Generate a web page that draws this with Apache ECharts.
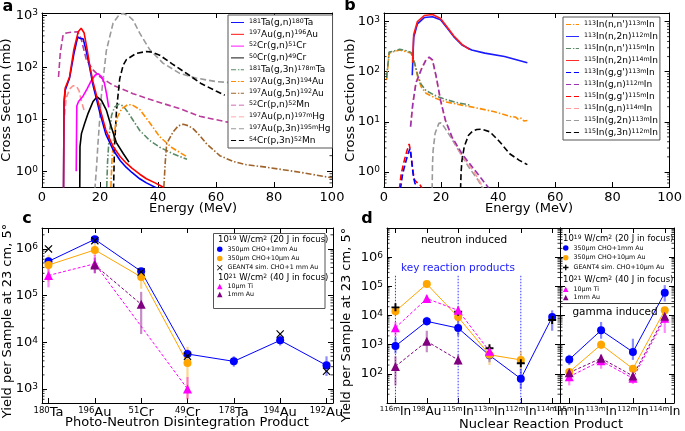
<!DOCTYPE html>
<html><head><meta charset="utf-8">
<script src="https://cdn.jsdelivr.net/npm/echarts@6/dist/echarts.min.js"></script>
<style>html,body{margin:0;padding:0;background:#fff}#c{width:685px;height:431px}</style>
</head><body><div id="c"></div>
<script>
// ---------- Panel a: cross sections [Energy (MeV), mb] ----------
const aTaGN   = [[7.4,0.3],[7.6,20],[8.0,36],[9.5,62],[11,180],[12.3,380],[13,360],[13.5,380],[14.2,350],[15.3,200],[16.5,95],[17.6,45],[19,22],[20,13],[22,5.2],[24.5,2.6],[27,1.6],[29,1.2],[31,0.95],[33.7,0.72],[36,0.6],[39.5,0.48]];
const aAuGN   = [[7.4,0.3],[7.6,22],[8.0,40],[9.5,65],[11,220],[12.5,480],[13.5,560],[14.5,460],[15.5,230],[16.5,105],[17.6,52],[19,26],[20,16],[22,6.2],[24.5,3.0],[27,1.9],[29,1.45],[31,1.15],[33.7,0.88],[36,0.72],[39,0.6],[41.7,0.5],[42,0.3]];
const aCr52GN = [[11.8,1.0],[12.0,18],[12.6,22],[14,27],[15.5,38],[17,55],[18.3,70],[19.3,75],[20.5,66],[21.5,50],[22.3,30],[23,17]];
const aCr50GN = [[13.0,0.3],[13.1,3],[13.6,5.3],[14.7,8.3],[15.9,13],[17.6,22],[19,27],[20.5,23],[22.2,15],[23.9,7.1],[25.6,3.6],[28,2.2],[30,1.5]];
const aTaG3N  = [[22.2,0.3],[22.6,1.5],[23.2,5],[24,12],[25,17],[26.5,19.5],[28,18],[29.5,14],[31.4,9.6],[33.7,6.1],[37.2,3.9],[40.6,2.9],[45,2.2],[50,1.7]];
const aAuG3N  = [[23.6,0.3],[24.2,2],[25,6],[26,11],[27.5,16],[29.5,19],[31,19],[33.7,15.5],[37.2,8.5],[40.6,4.6],[45,2.8],[50,1.9]];
const aAuG5N  = [[41.8,0.3],[42.5,1.5],[43,3.4],[45.2,5.7],[47,7.5],[48.7,8],[50.5,7.5],[52.1,6.6],[54.5,4.8],[56.7,3.4],[61.3,2.0],[65.9,1.55],[70,1.35],[77.4,1.2],[88.9,0.96],[100,0.75]];
const aCrPN   = [[5.7,65],[6.3,190],[7.3,420],[8.4,455],[10,470],[12.4,480],[13.5,350],[15.3,138],[17.6,89],[19.9,66],[24.5,45],[31.4,31],[39.4,22],[47.5,16],[54.4,11.4],[63.6,8.9],[70,8],[80,6.3],[90,4.6],[100,3.2]];
const aAuPN   = [[7.8,12],[8.3,25],[9.5,38],[10.7,44],[11.9,43],[12.8,35],[13.6,22],[14.5,15]];
const aAuP3N  = [[18.0,0.3],[18.8,1.2],[19.3,3.4],[20.5,30],[22.2,210],[24.5,700],[26.5,1000],[28,1080],[30,950],[31.4,800],[33.7,450],[37.2,215],[41.7,120],[47.5,76],[53,62],[60,53],[66,50],[70,47]];
const aCrP3N  = [[24.6,0.3],[25,3],[25.7,15],[26.8,60],[28,110],[29.1,140],[32.5,185],[36,200],[38,195],[40.6,170],[45,115],[50,75],[55,48],[60,35],[63,29]];

// ---------- Panel b ----------
const bIn113NN  = [[0.9,68],[1.8,234],[3.2,250],[5.5,270],[7.8,250],[9.5,234],[10.7,148],[11.8,79],[13,50],[14.7,37],[18.1,29.5],[21.5,25],[27.3,21.5],[33,18.6],[38.7,15.8],[42,14],[44.4,12.6],[46,12.5],[47,11.2],[48,11.8],[49,10.4],[50.2,10.6]];
const bIn113N2N = [[9.9,85],[10.4,480],[11.7,900],[14.1,1200],[17,1250],[19.8,1080],[22.1,740],[24.4,500],[27.3,340],[30.7,270],[35.3,234],[42.2,200],[50.2,150]];
const bIn115NN  = [[0.9,75],[1.8,245],[3.2,255],[5.5,280],[7.8,262],[9.5,240],[10.7,150],[11.8,85],[13,56],[14.7,42],[18.1,33],[21.5,28],[25,24.5],[30.1,21.5]];
const bIn115N2N = [[10.0,150],[10.4,550],[11.7,1000],[14.1,1320],[17,1380],[19.8,1150],[22.1,780],[24.4,520],[27.3,350],[30,275]];
const bIn113GG  = [[5.3,0.3],[6.5,0.9],[7.5,1.5],[8.5,2.4],[9.1,2.9],[9.6,1.8],[10.2,0.9],[10.8,0.6],[11.5,0.55],[12,0.45]];
const bIn113GN  = [[9.3,8],[10.1,23],[11.2,59],[13,108],[14.7,171],[15.8,195],[17,171],[18.3,79],[19.8,27],[21.5,10.8],[23.8,5],[27.3,2.3],[31.8,1.08],[34,0.75],[37,0.45]];
const bIn115GG  = [[5.0,0.3],[6,0.9],[7,1.6],[8,2.6],[8.8,3.6],[9.4,2.4],[10,1.2],[10.6,0.7],[11.5,0.62],[12.5,0.57],[13.5,0.45]];
const bIn115GN  = [[9.3,8],[10.1,24],[11.2,62],[13,112],[14.7,175],[15.8,190],[17,165],[18.3,76],[19.8,26],[21.5,10.5],[23.8,4.8],[27.3,2.1],[31.8,0.95],[35,0.45]];
const bIn115G2N = [[16.8,0.3],[17.0,1.5],[17.2,2.7],[17.9,5.9],[19.2,9.3],[20,9.5],[21,8],[23.3,5],[26.1,2.7],[29.6,1.26],[33,0.68],[34.7,0.45]];
const bIn115G3N = [[26.7,0.3],[27.0,1.0],[27.3,1.7],[28.1,3.2],[29.6,5.4],[31,6.5],[32.5,7.0],[34.2,7.1],[37.1,6.3],[40.5,4.0],[44,2.3],[47.4,1.7],[50.2,1.4]];

// ---------- Panel c: yields per product ----------
const cSup = ['180','196','51','49','178','194','192'];
const cEl  = ['Ta','Au','Cr','Cr','Ta','Au','Au'];
const cBlue     = [5.4e5, 1.6e6, 3.3e5, 5.6e3, 3.9e3, 1.1e4, 3.2e3];
const cBlueLo   = [4.4e5, 1.4e6, 2.8e5, 4.5e3, 3.0e3, 8.5e3, 1.9e3];
const cBlueHi   = [6.6e5, 1.8e6, 3.9e5, 7.0e3, 5.0e3, 1.4e4, 5.0e3];
const cOrange   = [4.5e5, 9.5e5, 2.5e5, 3.6e3, null, null, null];
const cOrangeLo = [2.0e5, 7.0e5, 1.4e5, 6.0e2, null, null, null];
const cOrangeHi = [7.5e5, 1.3e6, 3.8e5, 8.0e3, null, null, null];
const cGeant    = [1.0e6, 1.5e6, 3.2e5, 5.0e3, null, 1.5e4, 2.4e3];
const cTi       = [2.7e5, 4.8e5, null, 1.0e3, null, null, null];
const cTiLo     = [1.5e5, 3.0e5, null, 6.0e2, null, null, null];
const cTiHi     = [4.5e5, 7.5e5, null, 1.8e3, null, null, null];
const cAu       = [null, 4.5e5, 6.5e4, null, null, null, null];
const cAuLo     = [null, 3.0e5, 1.5e4, null, null, null, null];
const cAuHi     = [null, 6.5e5, 1.2e5, null, null, null, null];

// ---------- Panel d (left: neutron induced, right: gamma induced) ----------
const dLSup = ['116m','198','115m','113m','112m','114m'];
const dLEl  = ['In','Au','In','In','In','In'];
const dRSup = ['115m','113m','112m','114m'];
const dREl  = ['In','In','In','In'];
const dLBlue     = [900, 6.3e3, 3.7e3, 430, 68, 8.8e3];
const dLBlueLo   = [500, 4.5e3, 2.0e3, 250, 30, 3.0e3];
const dLBlueHi   = [1.8e3, 9.0e3, 7.0e3, 800, 150, 1.5e4];
const dLOrange   = [1.4e4, 1.2e5, 8.8e3, 450, 300, null];
const dLOrangeLo = [1.0e4, 1.0e5, 6.0e3, 200, 150, null];
const dLOrangeHi = [2.0e4, 1.4e5, 1.3e4, 900, 600, null];
const dLGeant    = [1.9e4, null, 1.35e4, 750, 230, 7.0e3];
const dLTi       = [3.8e3, 3.8e4, 1.5e4, 600, null, null];
const dLTiLo     = [2.0e3, 3.0e4, 1.0e4, 400, null, null];
const dLTiHi     = [6.0e3, 5.0e4, 2.0e4, 900, null, null];
const dLAu       = [180, 1.3e3, 300, null, null, null];
const dLAuLo     = [40, 550, 200, null, null, null];
const dLAuHi     = [400, 3.0e3, 450, null, null, null];
const dKeyIdx    = [0, 2, 4];
const dKeyTop    = 2.3e5;
const dRBlue     = [310, 3.1e3, 560, 6.0e4];
const dRBlueLo   = [200, 1.6e3, 300, 3.0e4];
const dRBlueHi   = [450, 6.0e3, 1.6e3, 1.1e5];
const dROrange   = [115, 1.0e3, 150, 1.5e4];
const dROrangeLo = [80, 700, 110, 1.1e4];
const dROrangeHi = [150, 1.4e3, 200, 2.0e4];
const dRTi       = [80, 280, 70, 8.0e3];
const dRTiLo     = [40, 150, 45, 2.5e3];
const dRTiHi     = [150, 450, 100, 1.3e4];
const dRAu       = [110, 340, 85, 9.5e3];
const dRAuLo     = [80, 250, 60, 6.0e3];
const dRAuHi     = [150, 450, 110, 1.4e4];

// ---------- helpers ----------
const FONT = 'DejaVu Sans';
const minorMult = [2,3,4,5,6,7,8,9];
function supFmt(s){ const p=s.split('^'); let o=''; p.forEach((t,i)=>{ if(!t) return; o += (i%2===1)?'{s|'+t+'}':'{n|'+t+'}'; }); return o; }
function pts(arr){ const o=[]; arr.forEach((v,i)=>{ if(v!=null) o.push([i,v]); }); return o; }
function errs(v,lo,hi){ const o=[]; v.forEach((x,i)=>{ if(x!=null && lo[i]!=null) o.push([i,lo[i],hi[i]]); }); return o; }
function minorVals(min,max){ const o=[]; for(let e=-1;e<=7;e++){ minorMult.forEach(m=>{ const v=m*Math.pow(10,e); if(v>min && v<max) o.push(v); }); } return o; }

const axLine = {show:true, onZero:false, lineStyle:{color:'#000', width:1}};
const axTick = {show:true, inside:true, length:5, lineStyle:{color:'#000', width:1}};
function logFmt(show){ return function(v){ const e=Math.log10(v), r=Math.round(e); if(Math.abs(e-r)>1e-6 || show.indexOf(r)<0) return ''; return '{b|10}{s|'+r+'}'; }; }
const logRich = {b:{fontFamily:FONT, fontSize:13, color:'#000'}, s:{fontFamily:FONT, fontSize:9, color:'#000', verticalAlign:'top'}};

const xAxes=[], yAxes=[], grids=[], series=[];
function addGrid(g){ grids.push(g); return grids.length-1; }
function addX(gi, min, max, labelFn, extra){
  const base = {type:'value', gridIndex:gi, min, max, splitLine:{show:false}, axisLine:axLine, axisTick:axTick};
  xAxes.push(Object.assign({}, base, extra||{}, {position:'bottom', axisLabel: labelFn}));
  xAxes.push(Object.assign({}, base, extra||{}, {position:'top', axisLabel:{show:false}}));
  return xAxes.length-2;
}
function addY(gi, min, max, show){
  const base = {type:'log', logBase:10, gridIndex:gi, min, max, splitLine:{show:false}, axisLine:axLine, axisTick:axTick};
  yAxes.push(Object.assign({}, base, {position:'left', axisLabel: show ? {show:true, margin:4, formatter:logFmt(show), rich:logRich} : {show:false}}));
  yAxes.push(Object.assign({}, base, {position:'right', axisLabel:{show:false}}));
  return yAxes.length-2;
}
function curve(name, data, color, dash, xi, yi, w){
  series.push({type:'line', name, data, xAxisIndex:xi, yAxisIndex:yi, symbol:'none', clip:true, z:2,
    lineStyle:{color, width:w||1.6, type:dash||'solid'}, itemStyle:{color}, silent:true});
}
function minorSeries(xi, yi, xmin, min, max){
  series.push({type:'custom', xAxisIndex:xi, yAxisIndex:yi, silent:true, clip:false, z:5,
    data: minorVals(min,max).map(v=>[xmin,v]),
    renderItem(p, api){ const cs=p.coordSys; const y=api.coord([api.value(0), api.value(1)])[1];
      return {type:'group', children:[
        {type:'line', shape:{x1:cs.x, y1:y, x2:cs.x+2.5, y2:y}, style:{stroke:'#000', lineWidth:0.8}},
        {type:'line', shape:{x1:cs.x+cs.width-2.5, y1:y, x2:cs.x+cs.width, y2:y}, style:{stroke:'#000', lineWidth:0.8}}]}; }});
}
function errSeries(xi, yi, data, color){
  series.push({type:'custom', xAxisIndex:xi, yAxisIndex:yi, silent:true, clip:true, z:1, data,
    renderItem(p, api){ const a=api.coord([api.value(0), api.value(1)]), b=api.coord([api.value(0), api.value(2)]);
      return {type:'line', shape:{x1:a[0], y1:a[1], x2:b[0], y2:b[1]}, style:{stroke:color, lineWidth:2.2, opacity:0.45}}; }});
}
function marks(name, data, color, symbol, size, xi, yi){
  series.push({type:'scatter', name, data, xAxisIndex:xi, yAxisIndex:yi, symbol, symbolSize:size, z:4, silent:true,
    itemStyle:{color, opacity:1}});
}
function link(data, color, dash, xi, yi){
  series.push({type:'line', name:'_'+series.length, data, xAxisIndex:xi, yAxisIndex:yi, symbol:'none', z:3, silent:true,
    lineStyle:{color, width:1, type:dash||'solid'}});
}
function catFmt(sup, el, n){ return function(v){ const r=Math.round(v); if(Math.abs(v-r)>1e-6 || r<0 || r>=n) return ''; return '{s|'+sup[r]+'}{n|'+el[r]+'}'; }; }
function catLabel(sup, el, ns, ss){ return {show:true, margin:3, formatter:catFmt(sup, el, sup.length),
  rich:{n:{fontFamily:FONT, fontSize:ns, color:'#000'}, s:{fontFamily:FONT, fontSize:ss, color:'#000', verticalAlign:'top'}}}; }
const numLabel = {show:true, margin:4, fontFamily:FONT, fontSize:13, color:'#000'};

const DASH = [6,3], DASHDOT = [6,2,1.5,2];
const X_PATH = 'path://M1,0L5,4L9,0L10,1L6,5L10,9L9,10L5,6L1,10L0,9L4,5L0,1Z';
const PLUS_PATH = 'path://M3.8,0H6.2V3.8H10V6.2H6.2V10H3.8V6.2H0V3.8H3.8Z';
// legend line icons (stretched to itemWidth x itemHeight)
const ICON_SOLID = 'path://M0,0H14V1H0Z';
const ICON_DASH = 'path://M0,0H5.5V1H0Z M8.5,0H14V1H8.5Z';
const ICON_DASHDOT = 'path://M0,0H5.5V1H0Z M7.5,0H9V1H7.5Z M10.5,0H14V1H10.5Z';
function iconFor(dash){ return dash===DASH ? ICON_DASH : dash===DASHDOT ? ICON_DASHDOT : ICON_SOLID; }

// ---------- grids ----------
const gA = addGrid({left:42, top:13, width:290, height:174});
const gB = addGrid({left:384, top:13, width:291, height:174});
const gC = addGrid({left:42, top:228, width:291, height:175});
const gDL = addGrid({left:387, top:228, width:173, height:175});
const gDR = addGrid({left:560, top:228, width:114, height:175});

const xa = addX(gA, 0, 100, numLabel, {interval:20});
const ya = addY(gA, 0.5, 1100, [0,1,2,3]);
const xb = addX(gB, 0, 100, numLabel, {interval:20});
const yb = addY(gB, 0.5, 1480, [0,1,2,3]);
const xc = addX(gC, -0.14, 6.14, catLabel(cSup, cEl, 13, 8.5), {splitNumber:6});
const yc = addY(gC, 500, 2.8e6, [3,4,5,6]);
const xdl = addX(gDL, -0.27, 5.25, catLabel(dLSup, dLEl, 12, 7), {splitNumber:5});
const ydl = addY(gDL, 10, 1e7, [2,3,4,5,6]);
const xdr = addX(gDR, -0.29, 3.29, catLabel(dRSup, dREl, 12, 7), {splitNumber:3});
const ydr = addY(gDR, 10, 1e7, null);

// ---------- panel a series ----------
const aNames = ['^181^Ta(g,n)^180^Ta','^197^Au(g,n)^196^Au','^52^Cr(g,n)^51^Cr','^50^Cr(g,n)^49^Cr','^181^Ta(g,3n)^178m^Ta','^197^Au(g,3n)^194^Au','^197^Au(g,5n)^192^Au','^52^Cr(p,n)^52^Mn','^197^Au(p,n)^197m^Hg','^197^Au(p,3n)^195m^Hg','^54^Cr(p,3n)^52^Mn'];
const aDash = ['solid','solid','solid','solid',DASHDOT,DASHDOT,DASHDOT,DASH,DASH,DASH,DASH];
curve(aNames[7], aCrPN, '#bb3c9c', DASH, xa, ya);
curve(aNames[8], aAuPN, '#ff9090', DASH, xa, ya);
curve(aNames[9], aAuP3N, '#9a9a9a', DASH, xa, ya);
curve(aNames[10], aCrP3N, '#000000', DASH, xa, ya);
curve(aNames[4], aTaG3N, '#5a8a66', DASHDOT, xa, ya);
curve(aNames[5], aAuG3N, '#ff8c00', DASHDOT, xa, ya);
curve(aNames[6], aAuG5N, '#a0642a', DASHDOT, xa, ya);
curve(aNames[2], aCr52GN, '#ff00ff', 'solid', xa, ya);
curve(aNames[3], aCr50GN, '#000000', 'solid', xa, ya);
curve(aNames[0], aTaGN, '#0000ff', 'solid', xa, ya);
curve(aNames[1], aAuGN, '#ff0000', 'solid', xa, ya);
minorSeries(xa, ya, 0, 0.5, 1100);

// ---------- panel b series ----------
const bNames = ['^113^In(n,n\')^113m^In','^113^In(n,2n)^112m^In','^115^In(n,n\')^115m^In','^115^In(n,2n)^114m^In','^113^In(g,g\')^113m^In','^113^In(g,n)^112m^In','^115^In(g,g\')^115m^In','^115^In(g,n)^114m^In','^115^In(g,2n)^113m^In','^115^In(g,3n)^112m^In'];
const bDash = [DASHDOT,'solid',DASHDOT,'solid',DASH,DASH,DASH,DASH,DASH,DASH];
curve(bNames[0], bIn113NN, '#ff8c00', DASHDOT, xb, yb);
curve(bNames[2], bIn115NN, '#5a8a66', DASHDOT, xb, yb);
curve(bNames[8], bIn115G2N, '#9a9a9a', DASH, xb, yb);
curve(bNames[9], bIn115G3N, '#000000', DASH, xb, yb);
curve(bNames[7], bIn115GN, '#ff9a9a', DASH, xb, yb);
curve(bNames[5], bIn113GN, '#9b30b0', DASH, xb, yb);
curve(bNames[6], bIn115GG, '#ff0000', DASH, xb, yb);
curve(bNames[4], bIn113GG, '#0000ff', DASH, xb, yb);
curve(bNames[1], bIn113N2N, '#1a1aff', 'solid', xb, yb);
curve(bNames[3], bIn115N2N, '#ff1a1a', 'solid', xb, yb);
minorSeries(xb, yb, 0, 0.5, 1480);

// ---------- panel c series ----------
const C_BLUE='#0000ff', C_OR='#ffa500', C_MAG='#ff00ff', C_PUR='#800080';
const lgC1 = ['350µm CHO+1mm Au','350µm CHO+10µm Au','GEANT4 sim. CHO+1 mm Au'];
const lgC2 = ['10µm Ti','1mm Au'];
const lgD1 = ['350µm CHO+1mm Au','350µm CHO+10µm Au','GEANT4 sim. CHO+10µm Au'];
errSeries(xc, yc, errs(cBlue,cBlueLo,cBlueHi), C_BLUE);
errSeries(xc, yc, errs(cOrange,cOrangeLo,cOrangeHi), C_OR);
errSeries(xc, yc, errs(cTi,cTiLo,cTiHi), C_MAG);
errSeries(xc, yc, errs(cAu,cAuLo,cAuHi), C_PUR);
link(pts(cBlue), C_BLUE, 'solid', xc, yc);
link(pts(cOrange), C_OR, 'solid', xc, yc);
link(pts(cTi), C_MAG, [3,2], xc, yc);
link(pts(cAu), C_PUR, [3,2], xc, yc);
marks(lgC1[0], pts(cBlue), C_BLUE, 'circle', 8, xc, yc);
marks(lgC1[1], pts(cOrange), C_OR, 'circle', 8, xc, yc);
marks(lgC1[2], pts(cGeant), '#000', X_PATH, 8, xc, yc);
marks(lgC2[0], pts(cTi), C_MAG, 'triangle', 9, xc, yc);
marks(lgC2[1], pts(cAu), C_PUR, 'triangle', 9, xc, yc);
minorSeries(xc, yc, 0, 500, 2.8e6);

// ---------- panel d series ----------
series.push({type:'custom', xAxisIndex:xdl, yAxisIndex:ydl, silent:true, clip:true, z:1,
  data: dKeyIdx.map(i=>[i, dKeyTop]),
  renderItem(p, api){ const cs=p.coordSys; const a=api.coord([api.value(0), api.value(1)]);
    return {type:'line', shape:{x1:a[0], y1:a[1], x2:a[0], y2:cs.y+cs.height}, style:{stroke:'#3333ff', lineWidth:1, lineDash:[1.5,1.5]}}; }});
errSeries(xdl, ydl, errs(dLBlue,dLBlueLo,dLBlueHi), C_BLUE);
errSeries(xdl, ydl, errs(dLOrange,dLOrangeLo,dLOrangeHi), C_OR);
errSeries(xdl, ydl, errs(dLTi,dLTiLo,dLTiHi), C_MAG);
errSeries(xdl, ydl, errs(dLAu,dLAuLo,dLAuHi), C_PUR);
link(pts(dLBlue), C_BLUE, 'solid', xdl, ydl);
link(pts(dLOrange), C_OR, 'solid', xdl, ydl);
link(pts(dLTi), C_MAG, [3,2], xdl, ydl);
link(pts(dLAu), C_PUR, [3,2], xdl, ydl);
marks(lgD1[0], pts(dLBlue), C_BLUE, 'circle', 8, xdl, ydl);
marks(lgD1[1], pts(dLOrange), C_OR, 'circle', 8, xdl, ydl);
marks(lgD1[2], pts(dLGeant), '#000', PLUS_PATH, 8, xdl, ydl);
marks(lgC2[0], pts(dLTi), C_MAG, 'triangle', 9, xdl, ydl);
marks(lgC2[1], pts(dLAu), C_PUR, 'triangle', 9, xdl, ydl);
minorSeries(xdl, ydl, 0, 10, 1e7);

errSeries(xdr, ydr, errs(dRBlue,dRBlueLo,dRBlueHi), C_BLUE);
errSeries(xdr, ydr, errs(dROrange,dROrangeLo,dROrangeHi), C_OR);
errSeries(xdr, ydr, errs(dRTi,dRTiLo,dRTiHi), C_MAG);
errSeries(xdr, ydr, errs(dRAu,dRAuLo,dRAuHi), C_PUR);
link(pts(dRBlue), C_BLUE, 'solid', xdr, ydr);
link(pts(dROrange), C_OR, 'solid', xdr, ydr);
link(pts(dRTi), C_MAG, [3,2], xdr, ydr);
link(pts(dRAu), C_PUR, [3,2], xdr, ydr);
marks(lgD1[0], pts(dRBlue), C_BLUE, 'circle', 8, xdr, ydr);
marks(lgD1[1], pts(dROrange), C_OR, 'circle', 8, xdr, ydr);
marks(lgC2[0], pts(dRTi), C_MAG, 'triangle', 9, xdr, ydr);
marks(lgC2[1], pts(dRAu), C_PUR, 'triangle', 9, xdr, ydr);
minorSeries(xdr, ydr, 0, 10, 1e7);

// ---------- legends ----------
function curveLegend(left, top, names, dashes, gap){
  return {orient:'vertical', left, top, data:names.map((n,i)=>({name:n, icon:iconFor(dashes[i])})), selectedMode:false,
    backgroundColor:'#fff', borderColor:'#555', borderWidth:1,
    padding:[3,2,3,3], itemGap:gap, itemWidth:13, itemHeight:1.8, z:6,
    formatter: n => supFmt(n),
    textStyle:{fontFamily:FONT, color:'#000', fontSize:9, rich:{n:{fontFamily:FONT, fontSize:9, color:'#000'}, s:{fontFamily:FONT, fontSize:6.3, color:'#000', verticalAlign:'top'}}}};
}
function markLegend(left, top, names, lh){
  return {orient:'vertical', left, top, data:names, selectedMode:false, padding:0, itemGap:0, itemWidth:5.5, itemHeight:5.5, z:7,
    textStyle:{fontFamily:FONT, fontSize:6.3, color:'#000', lineHeight:lh}};
}
const legends = [
  curveLegend(228, 15, aNames, aDash, 2.8),
  curveLegend(563, 17, bNames, bDash, 3.0),
  markLegend(217, 244.5, lgC1, 9.3),
  markLegend(217, 282.5, lgC2, 8),
  markLegend(563, 243, lgD1, 9.8),
  markLegend(563, 285, lgC2, 8.4)
];

// ---------- texts ----------
const hdrRich = {n:{fontFamily:FONT, fontSize:8.5, color:'#000'}, s:{fontFamily:FONT, fontSize:6, color:'#000', verticalAlign:'top'}};
function txt(x, y, text, size, opts){ return Object.assign({type:'text', x, y, z:10, style:Object.assign({text, fontFamily:FONT, fontSize:size, fill:'#000', textAlign:'center', textVerticalAlign:'middle'}, (opts&&opts.style)||{})}, (opts&&opts.el)||{}); }
const graphics = [
  {type:'rect', z:6, shape:{x:213.5, y:233.5, width:111.5, height:75}, style:{fill:'#fff', stroke:'#555', lineWidth:1}},
  {type:'line', z:6, shape:{x1:560, y1:303.5, x2:674, y2:303.5}, style:{stroke:'#333', lineWidth:1}},
  {type:'text', z:10, x:218, y:240, style:{text:'{n|10}{s|19}{n| W/cm}{s|2}{n| (20 J in focus)}', rich:hdrRich, textVerticalAlign:'middle'}},
  {type:'text', z:10, x:218, y:277.5, style:{text:'{n|10}{s|21}{n| W/cm}{s|2}{n| (40 J in focus)}', rich:hdrRich, textVerticalAlign:'middle'}},
  {type:'text', z:10, x:563, y:238.5, style:{text:'{n|10}{s|19}{n| W/cm}{s|2}{n| (20 J in focus)}', rich:hdrRich, textVerticalAlign:'middle'}},
  {type:'text', z:10, x:563, y:280, style:{text:'{n|10}{s|21}{n| W/cm}{s|2}{n| (40 J in focus)}', rich:hdrRich, textVerticalAlign:'middle'}},
  txt(8, 7, 'a', 16, {style:{fontWeight:'bold'}}),
  txt(350, 6, 'b', 16, {style:{fontWeight:'bold'}}),
  txt(27, 219, 'c', 16, {style:{fontWeight:'bold'}}),
  txt(367, 219, 'd', 16, {style:{fontWeight:'bold'}}),
  txt(7, 100, 'Cross Section (mb)', 13, {el:{rotation:Math.PI/2}}),
  txt(351, 100, 'Cross Section (mb)', 13, {el:{rotation:Math.PI/2}}),
  txt(193, 209, 'Energy (MeV)', 13),
  txt(529, 209, 'Energy (MeV)', 13),
  txt(8, 321, 'Yield per Sample at 23 cm, 5°', 13, {el:{rotation:Math.PI/2}}),
  txt(347, 325, 'Yield per Sample at 23 cm, 5°', 13, {el:{rotation:Math.PI/2}}),
  txt(187, 423, 'Photo-Neutron Disintegration Product', 13),
  txt(541, 425, 'Nuclear Reaction Product', 13),
  txt(464, 240, 'neutron induced', 10.5),
  txt(458, 268, 'key reaction products', 10.5, {style:{fill:'#2222ff'}}),
  txt(615, 312, 'gamma induced', 10.5)
];

const chart = echarts.init(document.getElementById('c'), null, {renderer:'canvas'});
chart.setOption({
  animation:false, backgroundColor:'#fff',
  textStyle:{fontFamily:FONT},
  grid: grids, xAxis: xAxes, yAxis: yAxes, series, legend: legends, graphic: graphics
});
</script></body></html>
